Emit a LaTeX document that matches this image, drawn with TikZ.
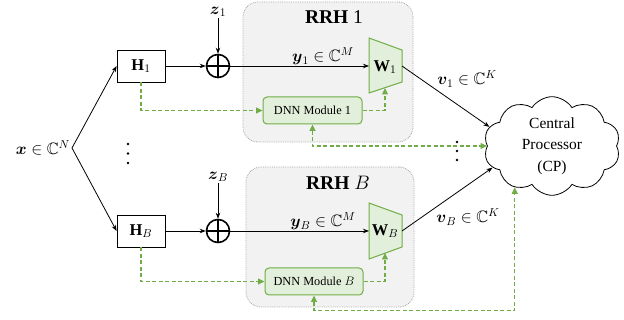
\RequirePackage{fix-cm}
\documentclass[tikz,border=0pt]{standalone}
\usepackage{amsmath,amssymb}
\usepackage{fontspec}
\setmainfont{Liberation Serif}
\usetikzlibrary{arrows.meta,shapes.symbols}

\definecolor{dnnline}{HTML}{70AD47}
\definecolor{dnnfill}{HTML}{E2EFDA}
\definecolor{rrhfill}{HTML}{F2F2F2}
\definecolor{rrhline}{HTML}{A6A6A6}

\tikzset{
  mathlbl/.style={font=\fontsize{16.5}{19}\selectfont, inner sep=1pt},
  chanbox/.style={draw, fill=white, line width=0.8pt, minimum width=48pt,
    minimum height=32pt, inner sep=0pt, font=\fontsize{16.5}{19}\selectfont},
  summer/.style={circle, draw, line width=1.6pt, minimum size=23pt, inner sep=0pt},
  rrhbox/.style={draw=rrhline, densely dotted, fill=rrhfill, line width=0.8pt,
    rounded corners=15pt},
  rrhtitle/.style={font=\fontsize{19.5}{22}\selectfont, inner sep=0pt},
  dnnbox/.style={draw=dnnline, fill=dnnfill, line width=1pt, rounded corners=4pt,
    minimum height=27pt, inner sep=0pt, font=\fontsize{12.3}{14}\selectfont},
  wshape/.style={draw=dnnline, fill=dnnfill, line width=1pt, line join=miter},
  sig/.style={line width=0.8pt, -{Stealth[length=6pt,width=4.5pt]}},
  ctrl/.style={dnnline, line width=1.25pt, dash pattern=on 4pt off 2.5pt},
  ctrltip/.style={-{Triangle[length=6.5pt,width=6pt]}},
  ctrlboth/.style={{Triangle[length=6.5pt,width=6pt]}-{Triangle[length=6.5pt,width=6pt]}},
  dot/.style={fill=black}
}

\begin{document}
\begin{tikzpicture}[x=1pt,y=-1pt]
\useasboundingbox (0,0) rectangle (624,320);

% remote radio head enclosures
\node[rrhbox, minimum width=170pt, minimum height=140pt] (rrh1) at (328,72) {};
\node[rrhbox, minimum width=168pt, minimum height=140pt] (rrhB) at (330,237) {};
\node[rrhtitle] (t1) at (334,17) {\textbf{RRH} 1};
\node[rrhtitle] (tB) at (338,183) {\textbf{RRH} $B$};

% input signal and split point
\coordinate (split) at (72,148);
\node[mathlbl, anchor=east] (xin) at (71,148) {$\boldsymbol{x}\in\mathbb{C}^N$};

% channel matrices
\node[chanbox] (h1) at (141,66) {$\mathbf{H}_1$};
\node[chanbox] (hB) at (141,231) {$\mathbf{H}_B$};

% noise summers
\node[summer] (s1) at (218,66) {};
\node[summer] (sB) at (218,231) {};
\draw[line width=1.6pt] (s1.north) -- (s1.south) (s1.west) -- (s1.east);
\draw[line width=1.6pt] (sB.north) -- (sB.south) (sB.west) -- (sB.east);
\node[mathlbl] (z1) at (218,12) {$\boldsymbol{z}_1$};
\node[mathlbl] (zB) at (218,177) {$\boldsymbol{z}_B$};

% combining matrices (trapezoids)
\draw[wshape] (369,38) -- (402,50) -- (402,82) -- (369,93) -- cycle;
\draw[wshape] (369,203) -- (402,215) -- (402,247) -- (369,259) -- cycle;
\node[mathlbl] (w1) at (385,67) {$\mathbf{W}_1$};
\node[mathlbl] (wB) at (385,231) {$\mathbf{W}_B$};
\coordinate (w1in) at (369,66);
\coordinate (w1out) at (402,66);
\coordinate (w1bot) at (385,88);
\coordinate (wBin) at (369,231);
\coordinate (wBout) at (402,231);
\coordinate (wBbot) at (385,253);

% DNN modules
\node[dnnbox, minimum width=99pt] (d1) at (312.5,110.5) {DNN Module 1};
\node[dnnbox, minimum width=98pt] (dB) at (314,281.5) {DNN Module $B$};

% central processor
\node[cloud, draw, line width=0.8pt, cloud puffs=10, cloud puff arc=115, aspect=1.6,
  minimum width=130pt, minimum height=82pt, inner sep=0pt, align=center,
  font=\fontsize{15.5}{21.5}\selectfont] (cp) at (552,146)
  {Central\\Processor\\(CP)};

% signal path
\draw[sig] (split) -- (h1.west);
\draw[sig] (split) -- (hB.west);
\draw[sig] (h1.east) -- (s1.west);
\draw[sig] (hB.east) -- (sB.west);
\draw[sig] (z1.south) -- (s1.north);
\draw[sig] (zB.south) -- (sB.north);
\draw[sig] (s1.east) -- (w1in);
\draw[sig] (sB.east) -- (wBin);
\draw[sig] (w1out) -- (cp.163);
\draw[sig] (wBout) -- (cp.200);

\node[mathlbl] (y1) at (323,56) {$\boldsymbol{y}_1\in\mathbb{C}^M$};
\node[mathlbl] (yB) at (323,221) {$\boldsymbol{y}_B\in\mathbb{C}^M$};
\node[mathlbl] (v1) at (467,79) {$\boldsymbol{v}_1\in\mathbb{C}^K$};
\node[mathlbl] (vB) at (468,217) {$\boldsymbol{v}_B\in\mathbb{C}^K$};

% control / learning paths
\draw[ctrl, ctrltip] (h1.south) |- (d1.west);
\draw[ctrl, ctrltip] (hB.south) |- (dB.west);
\draw[ctrl, ctrltip] (d1.east) -| (w1bot);
\draw[ctrl, ctrltip] (dB.east) -| (wBbot);
\draw[ctrl, ctrlboth] (d1.south) |- (cp.west);
\draw[ctrl, ctrlboth] (dB.south) -- ++(0,15) -| (cp.228);

% ellipsis dots
\fill[dot] (128,144) circle (1.3pt) (128,153.5) circle (1.3pt) (128,163) circle (1.3pt);
\fill[dot] (457,142) circle (1.3pt) (457,151) circle (1.3pt) (457,160) circle (1.3pt);
\end{tikzpicture}
\end{document}
